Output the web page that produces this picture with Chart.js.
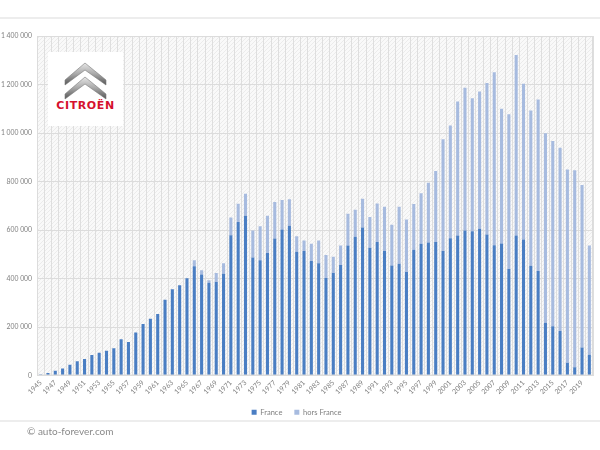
<!DOCTYPE html>
<html>
<head>
<meta charset="utf-8">
<script src="https://cdn.jsdelivr.net/npm/chart.js@4"></script>
<style>
  body { margin: 0; background: #fff; font-family: Lato, sans-serif; }
  #wrap { position: relative; width: 600px; height: 450px; overflow: hidden; }
  #chart { position: absolute; left: 0; top: 0; }
  .line { position: absolute; left: 0; width: 600px; height: 2px; background: #ededed; }
  #copy { position: absolute; left: 27px; top: 425px; font-size: 10px; color: #8a8a8a; }
  #logo { position: absolute; left: 48px; top: 52px; width: 75px; height: 74px; background: #fff; }
  #logo svg { position: absolute; left: 0; top: 0; }
  #logo .txt { position: absolute; left: 0; top: 47px; width: 75px; text-align: center;
               color: #d5112e; font: bold 11px 'DejaVu Sans', sans-serif; letter-spacing: 0.6px; }
</style>
</head>
<body>
<div id="wrap">
  <canvas id="chart" width="600" height="450"></canvas>
  <div class="line" style="top:17px"></div>
  <div class="line" style="top:420px"></div>
  <div id="logo">
    <svg width="75" height="50">
      <defs>
        <linearGradient id="chev" x1="0" y1="0" x2="0" y2="1">
          <stop offset="0" stop-color="#e6e6e6"/>
          <stop offset="0.5" stop-color="#a8a8a8"/>
          <stop offset="1" stop-color="#555"/>
        </linearGradient>
      </defs>
      <polygon points="17,33 17,28 37,11 58,28 58,33 37,18" fill="url(#chev)" stroke="#7a7a7a" stroke-width="0.6"/>
      <polygon points="17,47 17,42 37,25 58,42 58,47 37,32" fill="url(#chev)" stroke="#7a7a7a" stroke-width="0.6"/>
    </svg>
    <div class="txt">CITROËN</div>
  </div>
  <div id="copy">© auto-forever.com</div>
</div>
<script>
// ---- données ----
const years = ['1945','1946','1947','1948','1949','1950','1951','1952','1953','1954',
  '1955','1956','1957','1958','1959','1960','1961','1962','1963','1964',
  '1965','1966','1967','1968','1969','1970','1971','1972','1973','1974',
  '1975','1976','1977','1978','1979','1980','1981','1982','1983','1984',
  '1985','1986','1987','1988','1989','1990','1991','1992','1993','1994',
  '1995','1996','1997','1998','1999','2000','2001','2002','2003','2004',
  '2005','2006','2007','2008','2009','2010','2011','2012','2013','2014',
  '2015','2016','2017','2018','2019','2020'];

const france = [4000, 10000, 20000, 29000, 44000, 59000, 68000, 85000, 94000, 102000,
  112000, 149000, 138000, 177000, 212000, 234000, 254000, 312000, 356000, 372000,
  401000, 451000, 417000, 382000, 386000, 420000, 578000, 633000, 659000, 487000,
  475000, 505000, 565000, 602000, 618000, 510000, 513000, 472000, 463000, 402000,
  423000, 456000, 536000, 572000, 610000, 527000, 551000, 513000, 454000, 461000,
  427000, 519000, 543000, 548000, 551000, 513000, 566000, 577000, 598000, 595000,
  605000, 581000, 537000, 544000, 439000, 577000, 561000, 453000, 431000, 218000,
  203000, 184000, 53000, 34000, 115000, 86000];

const horsFrance = [0, 0, 0, 0, 0, 0, 0, 0, 0, 0,
  0, 0, 0, 0, 0, 0, 0, 0, 0, 0,
  0, 24000, 17000, 11000, 37000, 43000, 74000, 75000, 90000, 111000,
  140000, 154000, 150000, 122000, 109000, 64000, 44000, 71000, 94000, 95000,
  67000, 80000, 131000, 112000, 119000, 127000, 158000, 183000, 168000, 235000,
  216000, 188000, 209000, 247000, 292000, 461000, 465000, 553000, 589000, 548000,
  566000, 625000, 714000, 556000, 638000, 745000, 642000, 640000, 707000, 781000,
  764000, 755000, 797000, 812000, 671000, 450000];

const yMax = 1400000;
const yStep = 200000;

// fond hachuré de la zone de tracé
function hatch() {
  const p = document.createElement('canvas');
  p.width = 4; p.height = 4;
  const c = p.getContext('2d');
  c.fillStyle = '#f9f9f9';
  c.fillRect(0, 0, 4, 4);
  c.strokeStyle = '#ebebeb';
  c.lineWidth = 1;
  c.beginPath(); c.moveTo(0, 4); c.lineTo(4, 0); c.stroke();
  return p;
}

const plotBg = {
  id: 'plotBg',
  beforeDraw(chart) {
    const { ctx, chartArea: a } = chart;
    ctx.save();
    ctx.fillStyle = ctx.createPattern(hatch(), 'repeat');
    ctx.fillRect(a.left, a.top, a.width, a.height);
    ctx.restore();
  },
  afterDraw(chart) {
    const { ctx, chartArea: a } = chart;
    ctx.save();
    ctx.strokeStyle = '#dcdcdc';
    ctx.lineWidth = 1;
    ctx.strokeRect(a.left + 0.5, a.top + 0.5, a.width - 1, a.height - 1);
    ctx.restore();
  }
};

function spaced(v) {
  return String(v).replace(/\B(?=(\d{3})+(?!\d))/g, ' ');
}

new Chart(document.getElementById('chart'), {
  type: 'bar',
  data: {
    labels: years,
    datasets: [
      { label: 'France', data: france, backgroundColor: '#4a7ec3', barPercentage: 0.42, categoryPercentage: 1 },
      { label: 'hors France', data: horsFrance, backgroundColor: '#a7bbdf', barPercentage: 0.42, categoryPercentage: 1 }
    ]
  },
  options: {
    responsive: false,
    animation: false,
    layout: { padding: { top: 36, right: 7, left: 0, bottom: 24 } },
    plugins: {
      tooltip: { enabled: false },
      legend: {
        position: 'bottom',
        labels: {
          boxWidth: 5, boxHeight: 5, padding: 12,
          color: '#7f7f7f', font: { family: 'Lato', size: 7.5 }
        }
      }
    },
    scales: {
      x: {
        stacked: true,
        grid: { color: '#dedede', offset: true, drawTicks: false },
        border: { display: false },
        ticks: {
          autoSkip: false, minRotation: 45, maxRotation: 45, padding: 3,
          color: '#808080', font: { family: 'Lato', size: 7 },
          callback: (v, i) => (i % 2 === 0 ? years[i] : '')
        },
        afterFit: s => { s.height = 21; }
      },
      y: {
        stacked: true,
        min: 0, max: yMax,
        grid: { color: '#dcdcdc', drawTicks: false },
        border: { display: false },
        ticks: {
          stepSize: yStep, padding: 5,
          color: '#808080', font: { family: 'Lato', size: 6.8 },
          callback: v => spaced(v)
        },
        afterFit: s => { s.width = 37; }
      }
    }
  },
  plugins: [plotBg]
});
</script>
</body>
</html>
